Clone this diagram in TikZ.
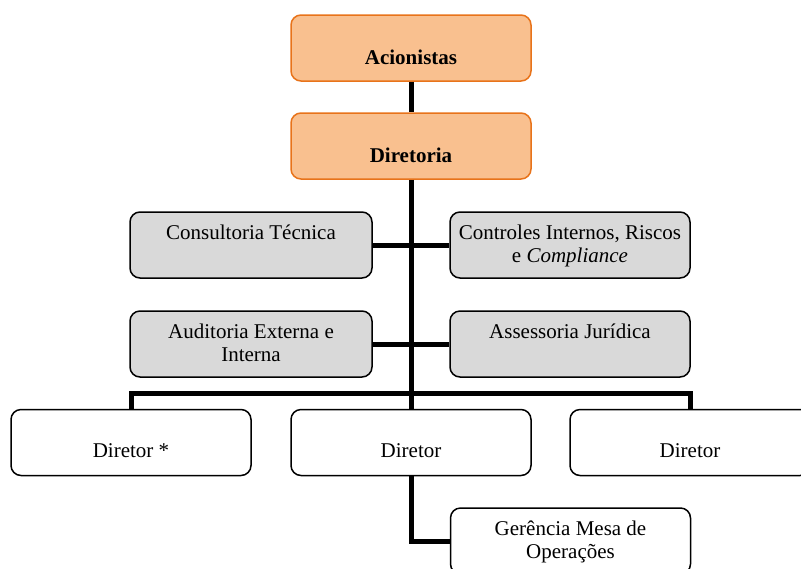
\documentclass[tikz,border=0pt]{standalone}
\usepackage{fontspec}
\setmainfont{Liberation Serif}
\usepackage{xcolor}
\definecolor{orgfill}{HTML}{F9C08F}
\definecolor{orgline}{HTML}{E8731A}
\definecolor{boxgray}{HTML}{D9D9D9}

\tikzset{
  unitbox/.style={draw, rounded corners=5pt, line width=0.75pt, minimum width=120pt, minimum height=33pt, inner sep=1pt, align=center, font=\fontsize{10.5}{11.5}\selectfont},
  headbox/.style={unitbox, fill=orgfill, draw=orgline, font=\fontsize{10.5}{11.5}\selectfont\bfseries, text height=18.8pt, text depth=2pt},
  staffbox/.style={unitbox, fill=boxgray, text height=9.5pt, text depth=15.2pt},
  twoline/.style={text height=19.3pt, text depth=2pt},
  dirbox/.style={unitbox, fill=white, text height=16.8pt, text depth=2pt},
  subbox/.style={unitbox, fill=white, twoline},
  link/.style={line width=2.5pt}
}

\begin{document}
\begin{tikzpicture}[x=0.5pt,y=0.5pt,yscale=-1,xscale=1]
        \useasboundingbox (0,0) rectangle (801,568);
        \clip (0,0) rectangle (801,568);

        % Top boxes
        \node [headbox] (acion) at (411,48) {Acionistas};
        \node [headbox] (diret) at (411,146) {Diretoria};

        % Staff boxes
        \node [staffbox, minimum width=121pt] (consul) at (251,245) {Consultoria Técnica};
        \node [staffbox, twoline] (contr) at (570,245) {Controles Internos, Riscos\\e \textit{Compliance}};
        \node [staffbox, twoline, minimum width=121pt] (audit) at (251,344) {Auditoria Externa e\\Interna};
        \node [staffbox] (assess) at (570,344) {Assessoria Jurídica};

        % Directors
        \node [dirbox] (dirA) at (131,442.5) {Diretor *};
        \node [dirbox] (dirB) at (411,442.5) {Diretor};
        \node [dirbox] (dirC) at (690,442.5) {Diretor};
        \node [subbox] (geren) at (570.5,541) {Gerência Mesa de\\Operações};

        \coordinate (bar) at (411,393);

        % Connectors
        \draw [link] (acion.south) -- (diret.north);
        \draw [link] (diret.south) -- (dirB.north);
        \draw [link] (consul.east) -- (contr.west);
        \draw [link] (audit.east) -- (assess.west);
        \draw [link] (dirA.north) |- (bar) -| (dirC.north);
        \draw [link] (dirB.south) |- (geren.west);

\end{tikzpicture}
\end{document}
